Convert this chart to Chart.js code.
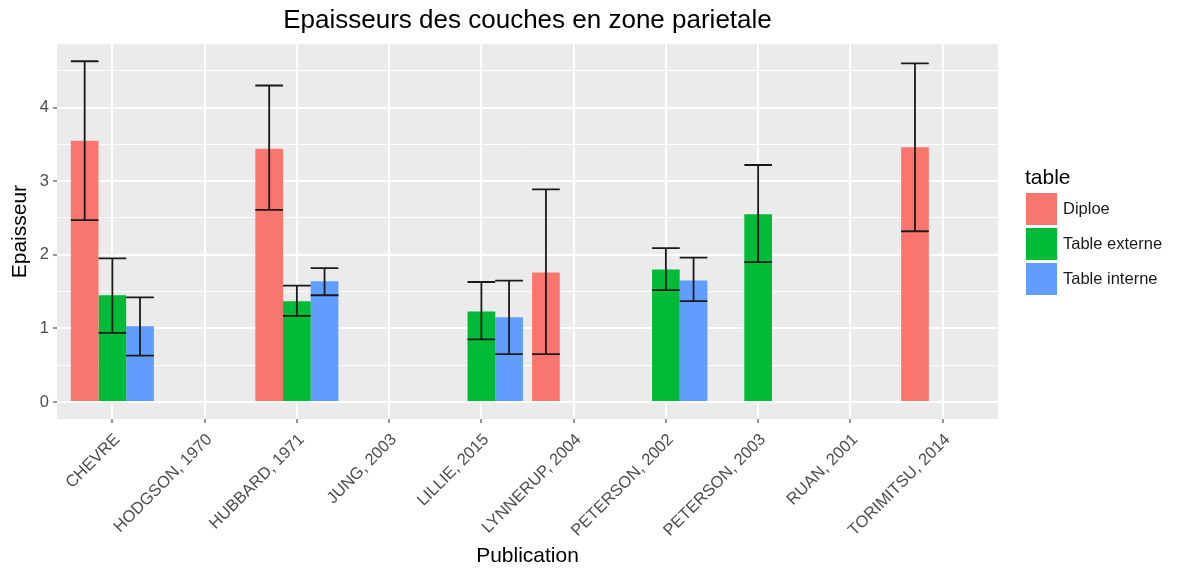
<!DOCTYPE html>
<html>
<head>
<meta charset="utf-8">
<title>Epaisseurs des couches en zone parietale</title>
<script src="https://cdn.jsdelivr.net/npm/chart.js@4.4.1/dist/chart.umd.min.js"></script>
<style>
  body { margin: 0; background: #fff; }
</style>
</head>
<body>
<canvas id="chart" width="1184" height="569"></canvas>
<script>
var publications = ["CHEVRE", "HODGSON, 1970", "HUBBARD, 1971", "JUNG, 2003", "LILLIE, 2015",
  "LYNNERUP, 2004", "PETERSON, 2002", "PETERSON, 2003", "RUAN, 2001", "TORIMITSU, 2014"];

// mean thickness + error bar ends, one entry per publication (null = no data)
var diploe     = [3.55, null, 3.44, null, null, 1.76, null, null, null, 3.46];
var diploeLo   = [2.47, null, 2.61, null, null, 0.65, null, null, null, 2.32];
var diploeHi   = [4.63, null, 4.30, null, null, 2.89, null, null, null, 4.60];

var externe    = [1.45, null, 1.37, null, 1.23, null, 1.80, 2.55, null, null];
var externeLo  = [0.94, null, 1.17, null, 0.85, null, 1.52, 1.90, null, null];
var externeHi  = [1.95, null, 1.58, null, 1.63, null, 2.09, 3.22, null, null];

var interne    = [1.03, null, 1.64, null, 1.15, null, 1.65, null, null, null];
var interneLo  = [0.63, null, 1.45, null, 0.65, null, 1.37, null, null, null];
var interneHi  = [1.42, null, 1.82, null, 1.65, null, 1.96, null, null, null];

var majorTicks = [0, 1, 2, 3, 4];
var minorTicks = [0.5, 1.5, 2.5, 3.5, 4.5];

var FONT = "'Liberation Sans', Arial, Helvetica, sans-serif";

var toPoints = function(arr) {
  return arr.map(function(v, i) { return {x: i, y: v}; });
};

// grey panel behind the plot
var panelBg = {
  id: 'panelBg',
  beforeDraw: function(chart) {
    var a = chart.chartArea, ctx = chart.ctx;
    ctx.save();
    ctx.fillStyle = '#EBEBEB';
    ctx.fillRect(a.left, a.top, a.right - a.left, a.bottom - a.top);
    ctx.restore();
  }
};

// error bars drawn on top of every bar
var errorBars = {
  id: 'errorBars',
  afterDatasetsDraw: function(chart) {
    var ctx = chart.ctx;
    var yScale = chart.scales.y;
    ctx.save();
    ctx.strokeStyle = '#1a1a1a';
    ctx.lineWidth = 1.8;
    chart.data.datasets.forEach(function(ds, di) {
      var meta = chart.getDatasetMeta(di);
      meta.data.forEach(function(bar, i) {
        if (ds.errLo[i] == null) return;
        var x = bar.x, half = bar.width / 2;
        var yl = yScale.getPixelForValue(ds.errLo[i]);
        var yh = yScale.getPixelForValue(ds.errHi[i]);
        ctx.beginPath();
        ctx.moveTo(x, yl); ctx.lineTo(x, yh);
        ctx.moveTo(x - half, yl); ctx.lineTo(x + half, yl);
        ctx.moveTo(x - half, yh); ctx.lineTo(x + half, yh);
        ctx.stroke();
      });
    });
    ctx.restore();
  }
};

// ggplot-like legend on the right
var ggLegend = {
  id: 'ggLegend',
  afterDraw: function(chart) {
    var ctx = chart.ctx;
    var x0 = chart.chartArea.right + 27;
    ctx.save();
    ctx.fillStyle = '#000';
    ctx.textBaseline = 'alphabetic';
    ctx.font = '21px ' + FONT;
    ctx.fillText('table', x0, 184);
    ctx.font = '16.5px ' + FONT;
    ctx.textBaseline = 'middle';
    chart.data.datasets.forEach(function(ds, i) {
      var y = 193 + i * 35;
      ctx.fillStyle = ds.backgroundColor;
      ctx.fillRect(x0 + 1, y, 31, 32);
      ctx.fillStyle = '#1a1a1a';
      ctx.fillText(ds.label, x0 + 38, y + 16);
    });
    ctx.restore();
  }
};

var ctx = document.getElementById('chart');
var chart = new Chart(ctx, {
  type: 'bar',
  data: {
    datasets: [
      { label: 'Diploe', data: toPoints(diploe), errLo: diploeLo, errHi: diploeHi, backgroundColor: '#F8766D' },
      { label: 'Table externe', data: toPoints(externe), errLo: externeLo, errHi: externeHi, backgroundColor: '#00BA38' },
      { label: 'Table interne', data: toPoints(interne), errLo: interneLo, errHi: interneHi, backgroundColor: '#619CFF' }
    ]
  },
  options: {
    responsive: false,
    animation: false,
    events: [],
    categoryPercentage: 0.9,
    barPercentage: 1.0,
    layout: { padding: { left: 0, right: 186, top: 0, bottom: 0 } },
    plugins: {
      legend: { display: false },
      tooltip: { enabled: false },
      title: {
        display: true,
        fullSize: false,
        text: 'Epaisseurs des couches en zone parietale',
        color: '#000',
        font: { family: FONT, size: 26, weight: 'normal' },
        padding: { top: 5, bottom: 8 }
      }
    },
    scales: {
      x: {
        type: 'linear',
        offset: false,
        min: -0.6,
        max: 9.6,
        afterFit: function(s) { s.height = 150; },
        afterBuildTicks: function(s) {
          s.ticks = publications.map(function(p, i) { return {value: i}; });
        },
        border: { display: false },
        grid: { offset: false, color: '#FFFFFF', lineWidth: 2, tickColor: '#333333', tickWidth: 1, tickLength: 4 },
        ticks: {
          autoSkip: false,
          minRotation: 45,
          maxRotation: 45,
          padding: 7,
          labelOffset: 5,
          color: '#4D4D4D',
          font: { family: FONT, size: 16.5 },
          callback: function(v, i) { return publications[i]; }
        },
        title: {
          display: true,
          text: 'Publication',
          color: '#000',
          font: { family: FONT, size: 21 },
          padding: { top: 0, bottom: 0 }
        }
      },
      y: {
        min: -0.2315,
        max: 4.8615,
        afterFit: function(s) { s.width = 57; },
        afterBuildTicks: function(s) {
          s.ticks = majorTicks.concat(minorTicks).sort(function(a, b) { return a - b; })
            .map(function(v) { return {value: v}; });
        },
        border: { display: false },
        grid: {
          color: '#FFFFFF',
          lineWidth: function(c) { return majorTicks.indexOf(c.tick.value) >= 0 ? 2 : 1; },
          tickColor: function(c) { return majorTicks.indexOf(c.tick.value) >= 0 ? '#333333' : 'rgba(0,0,0,0)'; },
          tickWidth: 1,
          tickLength: 4
        },
        ticks: {
          padding: 4,
          color: '#4D4D4D',
          font: { family: FONT, size: 16.5 },
          callback: function(v) { return majorTicks.indexOf(v) >= 0 ? String(v) : ''; }
        },
        title: {
          display: true,
          text: 'Epaisseur',
          color: '#000',
          font: { family: FONT, size: 21 },
          padding: { top: 8, bottom: 0 }
        }
      }
    }
  },
  plugins: [panelBg, errorBars, ggLegend]
});
</script>
</body>
</html>
